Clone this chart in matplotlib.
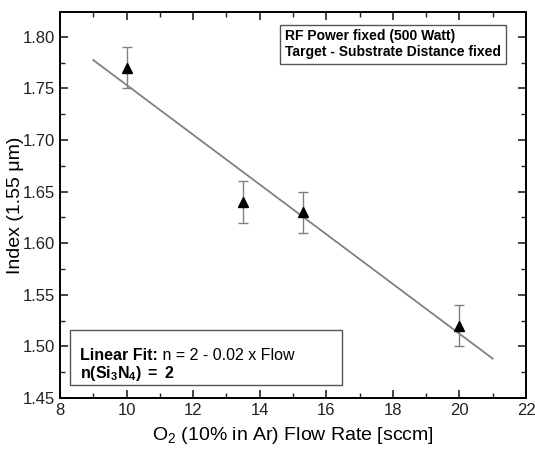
import numpy as np
import matplotlib.pyplot as plt
from matplotlib.ticker import MultipleLocator
from matplotlib.patches import Rectangle

plt.rcParams['font.family'] = ['Liberation Sans', 'DejaVu Sans']
plt.rcParams['mathtext.fontset'] = 'custom'
plt.rcParams['mathtext.rm'] = 'Liberation Sans'
plt.rcParams['mathtext.it'] = 'Liberation Sans:italic'
plt.rcParams['mathtext.bf'] = 'Liberation Sans:bold'

# data
flow = [10.0, 13.5, 15.3, 20.0]
index = [1.77, 1.64, 1.63, 1.52]
err = [0.02, 0.02, 0.02, 0.02]
fit_range = [9.0, 21.0]

fig = plt.figure(figsize=(5.35, 4.55), dpi=100)
ax = fig.add_axes([60/535, 1 - 398/455, 466/535, 386/455])

# linear fit through the points
slope, icpt = np.polyfit(flow, index, 1)
fx = np.array(fit_range)
ax.plot(fx, icpt + slope*fx, color='#808080', lw=1.3, zorder=1)

ax.errorbar(flow, index, yerr=err, fmt='none', ecolor='#808080',
            elinewidth=1, capsize=3.5, capthick=1, zorder=2)
ax.plot(flow, index, '^', color='k', ms=7, zorder=3)

ax.set_xlim(8, 22)
ax.set_ylim(1.45, 1.824)
ax.xaxis.set_major_locator(MultipleLocator(2))
ax.xaxis.set_minor_locator(MultipleLocator(1))
ax.yaxis.set_major_locator(MultipleLocator(0.05))
ax.yaxis.set_minor_locator(MultipleLocator(0.025))
ax.yaxis.set_major_formatter(plt.FormatStrFormatter('%.2f'))
ax.tick_params(which='both', direction='in', top=True, right=True,
               labelsize=12, colors='#222222')
ax.tick_params(which='major', length=6, width=1.2)
ax.tick_params(which='minor', length=3.5, width=1)
for s in ax.spines.values():
  s.set_linewidth(1.4)

ax.set_xlabel('O$_2$ (10% in Ar) Flow Rate [sccm]', fontsize=14, labelpad=5)
ax.set_ylabel('Index (1.55 \u03bcm)', fontsize=14, labelpad=-1)

ax.text(0.483, 0.955, 'RF Power fixed (500 Watt)\nTarget - Substrate Distance fixed',
        transform=ax.transAxes, fontsize=10, fontweight='bold', va='top',
        linespacing=1.15,
        bbox=dict(boxstyle='square,pad=0.35', fc='white', ec='#555555', lw=1))

ax.add_patch(Rectangle((0.021, 0.034), 0.584, 0.142, transform=ax.transAxes,
                       fc='white', ec='#555555', lw=1, zorder=4))
t1 = ax.text(0.043, 0.11, 'Linear Fit:', transform=ax.transAxes,
             fontsize=11.5, fontweight='bold', va='center', zorder=5)
ax.annotate(' n = 2 - 0.02 x Flow', xy=(1, 0.5), xycoords=t1,
            va='center', fontsize=11.5, zorder=5)
ax.text(0.043, 0.063, r'$\mathbf{n(Si_3N_4)\ =\ 2}$',
        transform=ax.transAxes, fontsize=11.5, va='center', zorder=5)

fig.savefig('out.png', dpi=100)
